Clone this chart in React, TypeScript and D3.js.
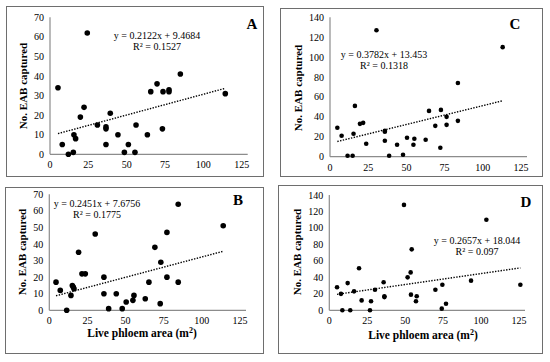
import React, { useEffect, useRef } from 'react';
import * as d3 from 'd3';

// panel order: A (top left), B (bottom left), C (top right), D (bottom right)
const panelLetters = ['A', 'B', 'C', 'D'];
const xTicks = [0, 25, 50, 75, 100, 125];
const yTicks70 = [0, 10, 20, 30, 40, 50, 60, 70];
const yTicks140 = [0, 20, 40, 60, 80, 100, 120, 140];

const aX = [5.2, 24.3, 8, 12, 15.2, 15.6, 16.7, 19.8, 22.2, 30.9, 36.5, 36.5, 36.5, 39.3, 44.3, 48.5, 51.1, 55.4, 56.1, 63.5, 65.7, 69.8, 73.3, 73.7, 77.6, 77.6, 85, 114.3];
const aY = [34, 62, 5, 0, 1, 10, 8, 19, 24, 15, 14, 13, 5, 21, 10, 1, 5, 1, 15, 10, 32, 36, 13, 32, 33, 32, 41, 31];

const bX = [4.4, 7.2, 11.4, 14.2, 15.1, 15.7, 16.2, 19.2, 21.4, 23.6, 30.1, 35.8, 35.8, 38.9, 43.9, 47.8, 50.4, 54.8, 55.5, 62.9, 65.3, 69.2, 72.7, 73.1, 77.1, 77.1, 84.5, 84.5, 114];
const bY = [17, 12, 0, 9, 15, 14, 13, 35, 22, 22, 46, 20, 10, 1, 10, 1, 5, 6, 9, 7, 17, 38, 4, 29, 47, 20, 64, 17, 51];

const cX = [4.8, 7.6, 11.5, 14.8, 15.4, 16.3, 19.6, 21.7, 23.7, 30.4, 35.9, 35.9, 35.9, 38.7, 43.9, 47.8, 50.4, 54.6, 55.2, 62.6, 64.8, 68.9, 72.2, 72.6, 76.3, 76.3, 83.7, 83.7, 113];
const cY = [29, 21, 1, 1, 23, 51, 33, 34, 13, 127, 26, 25, 16, 1, 12, 2, 19, 12, 18, 17, 46, 31, 9, 47, 40, 32, 74, 36, 110];

const dX = [5.1, 7.7, 8.6, 12.1, 13.8, 16.3, 19.6, 21.3, 26.8, 27.5, 30.1, 35.8, 36.3, 36.3, 49.2, 51.6, 53.6, 53.8, 54.3, 57.1, 57.6, 69.9, 74.1, 74.5, 76.9, 93.4, 103.5, 125.9];
const dY = [28, 20, 0, 33, 0, 23, 51, 12, 0, 11, 25, 34, 17, 16, 128, 40, 46, 19, 74, 11, 17, 25, 2, 31, 8, 36, 110, 31];

const slopes = [0.2122, 0.2451, 0.3782, 0.2657];
const intercepts = [9.4684, 7.6756, 13.453, 18.044];
const eqLabels = ['y = 0.2122x + 9.4684', 'y = 0.2451x + 7.6756', 'y = 0.3782x + 13.453', 'y = 0.2657x + 18.044'];
const r2Labels = ['0.1527', '0.1775', '0.1318', '0.097'];

const seriesX = [aX, bX, cX, dX];
const seriesY = [aY, bY, cY, dY];
const yMaxes = [70, 70, 140, 140];
const yTickSets = [yTicks70, yTicks70, yTicks140, yTicks140];

const layout = [
  { box: [6, 6, 257, 170], xr: [50, 241.7], yr: [154.3, 17.3], eq: [157, 38.5], letter: [252, 29], yt: [23, 86], xt: null, r: 2.8 },
  { box: [5, 187, 258, 166], xr: [49.3, 240], yr: [310.3, 194.3], eq: [97, 206.5], letter: [238, 204.5], yt: [22, 252], xt: [142, 337], r: 2.8 },
  { box: [280, 8, 262, 168], xr: [330, 521], yr: [156.7, 17.3], eq: [384, 57.5], letter: [515, 29], yt: [298, 88], xt: null, r: 2.3 },
  { box: [278, 185, 264, 168], xr: [329.3, 519], yr: [310.3, 195], eq: [477, 243.5], letter: [526, 206.5], yt: [297, 252], xt: [423, 339], r: 2.3 },
];

const serif = '"Liberation Serif", "Times New Roman", serif';

export default function App() {
  const ref = useRef<SVGSVGElement>(null);

  useEffect(() => {
    const svg = d3.select(ref.current);
    svg.selectAll('*').remove();

    layout.forEach((L, i) => {
      const g = svg.append('g');
      const x = d3.scaleLinear().domain([0, 125]).range(L.xr);
      const y = d3.scaleLinear().domain([0, yMaxes[i]]).range(L.yr);

      g.append('rect')
        .attr('x', L.box[0] + 0.5).attr('y', L.box[1] + 0.5)
        .attr('width', L.box[2]).attr('height', L.box[3])
        .attr('fill', '#fff').attr('stroke', '#6e6e6e').attr('stroke-width', 1);

      // axis lines
      g.append('line')
        .attr('x1', x(0)).attr('x2', x(0))
        .attr('y1', y(0)).attr('y2', y(yMaxes[i]))
        .attr('stroke', '#8c8c8c').attr('stroke-width', 1.2);
      g.append('line')
        .attr('x1', x(0)).attr('x2', x(125) + 6)
        .attr('y1', y(0)).attr('y2', y(0))
        .attr('stroke', '#8c8c8c').attr('stroke-width', 1.2);

      g.selectAll('.yt').data(yTickSets[i]).enter().append('text')
        .attr('x', x(0) - 6).attr('y', (d) => y(d) + 3.5)
        .attr('text-anchor', 'end')
        .style('font-family', serif).style('font-size', '10px')
        .text((d) => d);

      g.selectAll('.xt').data(xTicks).enter().append('text')
        .attr('x', (d) => x(d)).attr('y', y(0) + 14)
        .attr('text-anchor', 'middle')
        .style('font-family', serif).style('font-size', '10px')
        .text((d) => d);

      // trend line over the data range
      const xs = seriesX[i];
      const [x0, x1] = d3.extent(xs) as [number, number];
      g.append('line')
        .attr('x1', x(x0)).attr('y1', y(slopes[i] * x0 + intercepts[i]))
        .attr('x2', x(x1)).attr('y2', y(slopes[i] * x1 + intercepts[i]))
        .attr('stroke', '#000').attr('stroke-width', 1.4)
        .attr('stroke-dasharray', '1.4,1.4');

      g.selectAll('circle').data(xs.map((v, k) => [v, seriesY[i][k]])).enter().append('circle')
        .attr('cx', (d) => x(d[0])).attr('cy', (d) => y(d[1]))
        .attr('r', L.r).attr('fill', '#000');

      g.append('text')
        .attr('x', L.eq[0]).attr('y', L.eq[1])
        .attr('text-anchor', 'middle')
        .style('font-family', serif).style('font-size', '10px')
        .text(eqLabels[i]);
      g.append('text')
        .attr('x', L.eq[0]).attr('y', L.eq[1] + 11)
        .attr('text-anchor', 'middle')
        .style('font-family', serif).style('font-size', '10px')
        .text('R² = ' + r2Labels[i]);

      g.append('text')
        .attr('x', L.letter[0]).attr('y', L.letter[1])
        .attr('text-anchor', 'middle')
        .style('font-family', serif).style('font-size', '15px').style('font-weight', 'bold')
        .text(panelLetters[i]);

      g.append('text')
        .attr('transform', `translate(${L.yt[0]},${L.yt[1]}) rotate(-90)`)
        .attr('text-anchor', 'middle').attr('dy', '0.35em')
        .style('font-family', serif).style('font-size', '11px').style('font-weight', 'bold')
        .text('No. EAB captured');

      if (L.xt) {
        const t = g.append('text')
          .attr('x', L.xt[0]).attr('y', L.xt[1])
          .attr('text-anchor', 'middle')
          .style('font-family', serif).style('font-size', '11.5px').style('font-weight', 'bold');
        t.append('tspan').text('Live phloem area (m');
        t.append('tspan').attr('dy', -4).style('font-size', '8px').text('2');
        t.append('tspan').attr('dy', 4).text(')');
      }
    });
  }, []);

  return (
    <div style={{ position: 'absolute', left: 0, top: 0, background: '#fff' }}>
      <svg ref={ref} width={550} height={362} style={{ display: 'block' }}></svg>
    </div>
  );
}
